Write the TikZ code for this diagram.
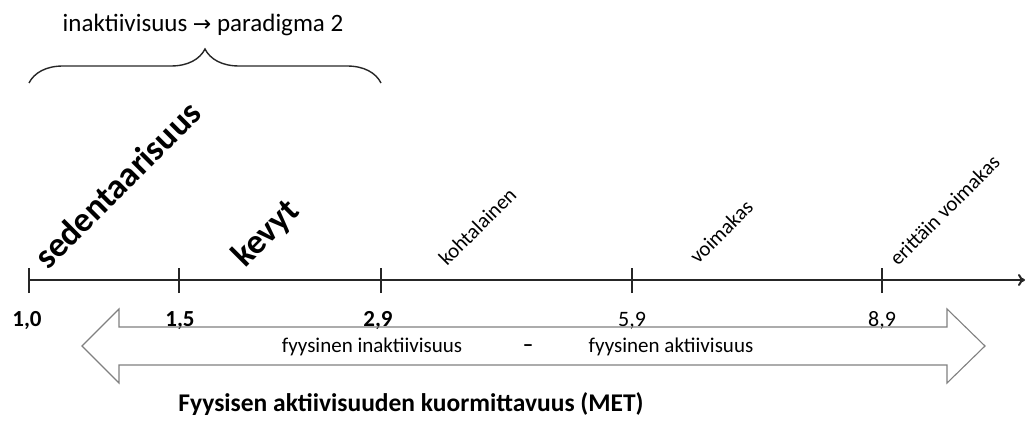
\documentclass[tikz,border=0pt]{standalone}
\usepackage{fontspec}
\setmainfont{Carlito}
\newfontfamily\symfont{DejaVu Sans}
\usetikzlibrary{positioning,arrows.meta,decorations.pathreplacing}

\begin{document}
\begin{tikzpicture}[
    x=1pt, y=-1pt,
    every node/.style={font=\fontsize{21}{24}\selectfont, inner sep=0pt},
    tickmark/.style={line width=2.4pt, black!85},
    num/.style={anchor=base, font=\fontsize{22}{24}\selectfont},
    bnum/.style={num, font=\fontsize{23}{26}\selectfont\bfseries},
    level/.style={anchor=base west, rotate=45},
    blevel/.style={level, font=\fontsize{35}{38}\selectfont\bfseries},
    bigarrow/.style={draw=black!50, line width=1.1pt}
  ]
  \useasboundingbox (0,0) rectangle (1027,425);

  % asteikko
  \coordinate (a10) at (29,280);
  \coordinate (a15) at (179,280);
  \coordinate (a29) at (381,280);
  \coordinate (a59) at (632,280);
  \coordinate (a89) at (882,280);
  \coordinate (aend) at (1025,280);
  \draw[line width=2pt, black!85, -{To[length=7pt,width=12pt]}] (a10) -- (aend);
  \foreach \p in {a10,a15,a29,a59,a89}
    \draw[tickmark] ([yshift=-13]\p) -- ([yshift=12]\p);

  \node[bnum] (n10) at (27,326) {1,0};
  \node[bnum] (n15) at (180,326) {1,5};
  \node[bnum] (n29) at (378,326) {2,9};
  \node[num]  (n59) at (632,326) {5,9};
  \node[num]  (n89) at (882,326) {8,9};

  % tasot
  \node[blevel] (sed) at (48,271) {sedentaarisuus};
  \node[blevel] (kev) at (245,269) {kevyt};
  \node[level]  (koh) at (447,267) {kohtalainen};
  \node[level]  (voi) at (698,265) {voimakas};
  \node[level]  (eri) at (898,267) {erittäin voimakas};

  % aaltosulje
  \coordinate (b1) at (29,83);
  \coordinate (b2) at (381,83);
  \draw[line width=1.4pt, black!85, decorate,
        decoration={brace, amplitude=34pt}] (b1) -- (b2);
  \node[font=\fontsize{25}{28}\selectfont] (para) at (203,25)
    {inaktiivisuus {\symfont\fontsize{22}{24}\selectfont→} paradigma 2};

  % nuoli
  \draw[bigarrow] (82,346) -- (119,309) -- (119,327) -- (947,327)
    -- (947,309) -- (985,346) -- (947,383) -- (947,365) -- (119,365)
    -- (119,383) -- cycle;
  \node (inakt) at (372,347) {fyysinen inaktiivisuus};
  \node[font=\fontsize{21}{24}\selectfont\bfseries] (viiva) at (528,348.5) {–};
  \node (akt)   at (671,347) {fyysinen aktiivisuus};

  \node[font=\fontsize{25.5}{30}\selectfont\bfseries] (met) at (411,404)
    {Fyysisen aktiivisuuden kuormittavuus (MET)};
\end{tikzpicture}
\end{document}
